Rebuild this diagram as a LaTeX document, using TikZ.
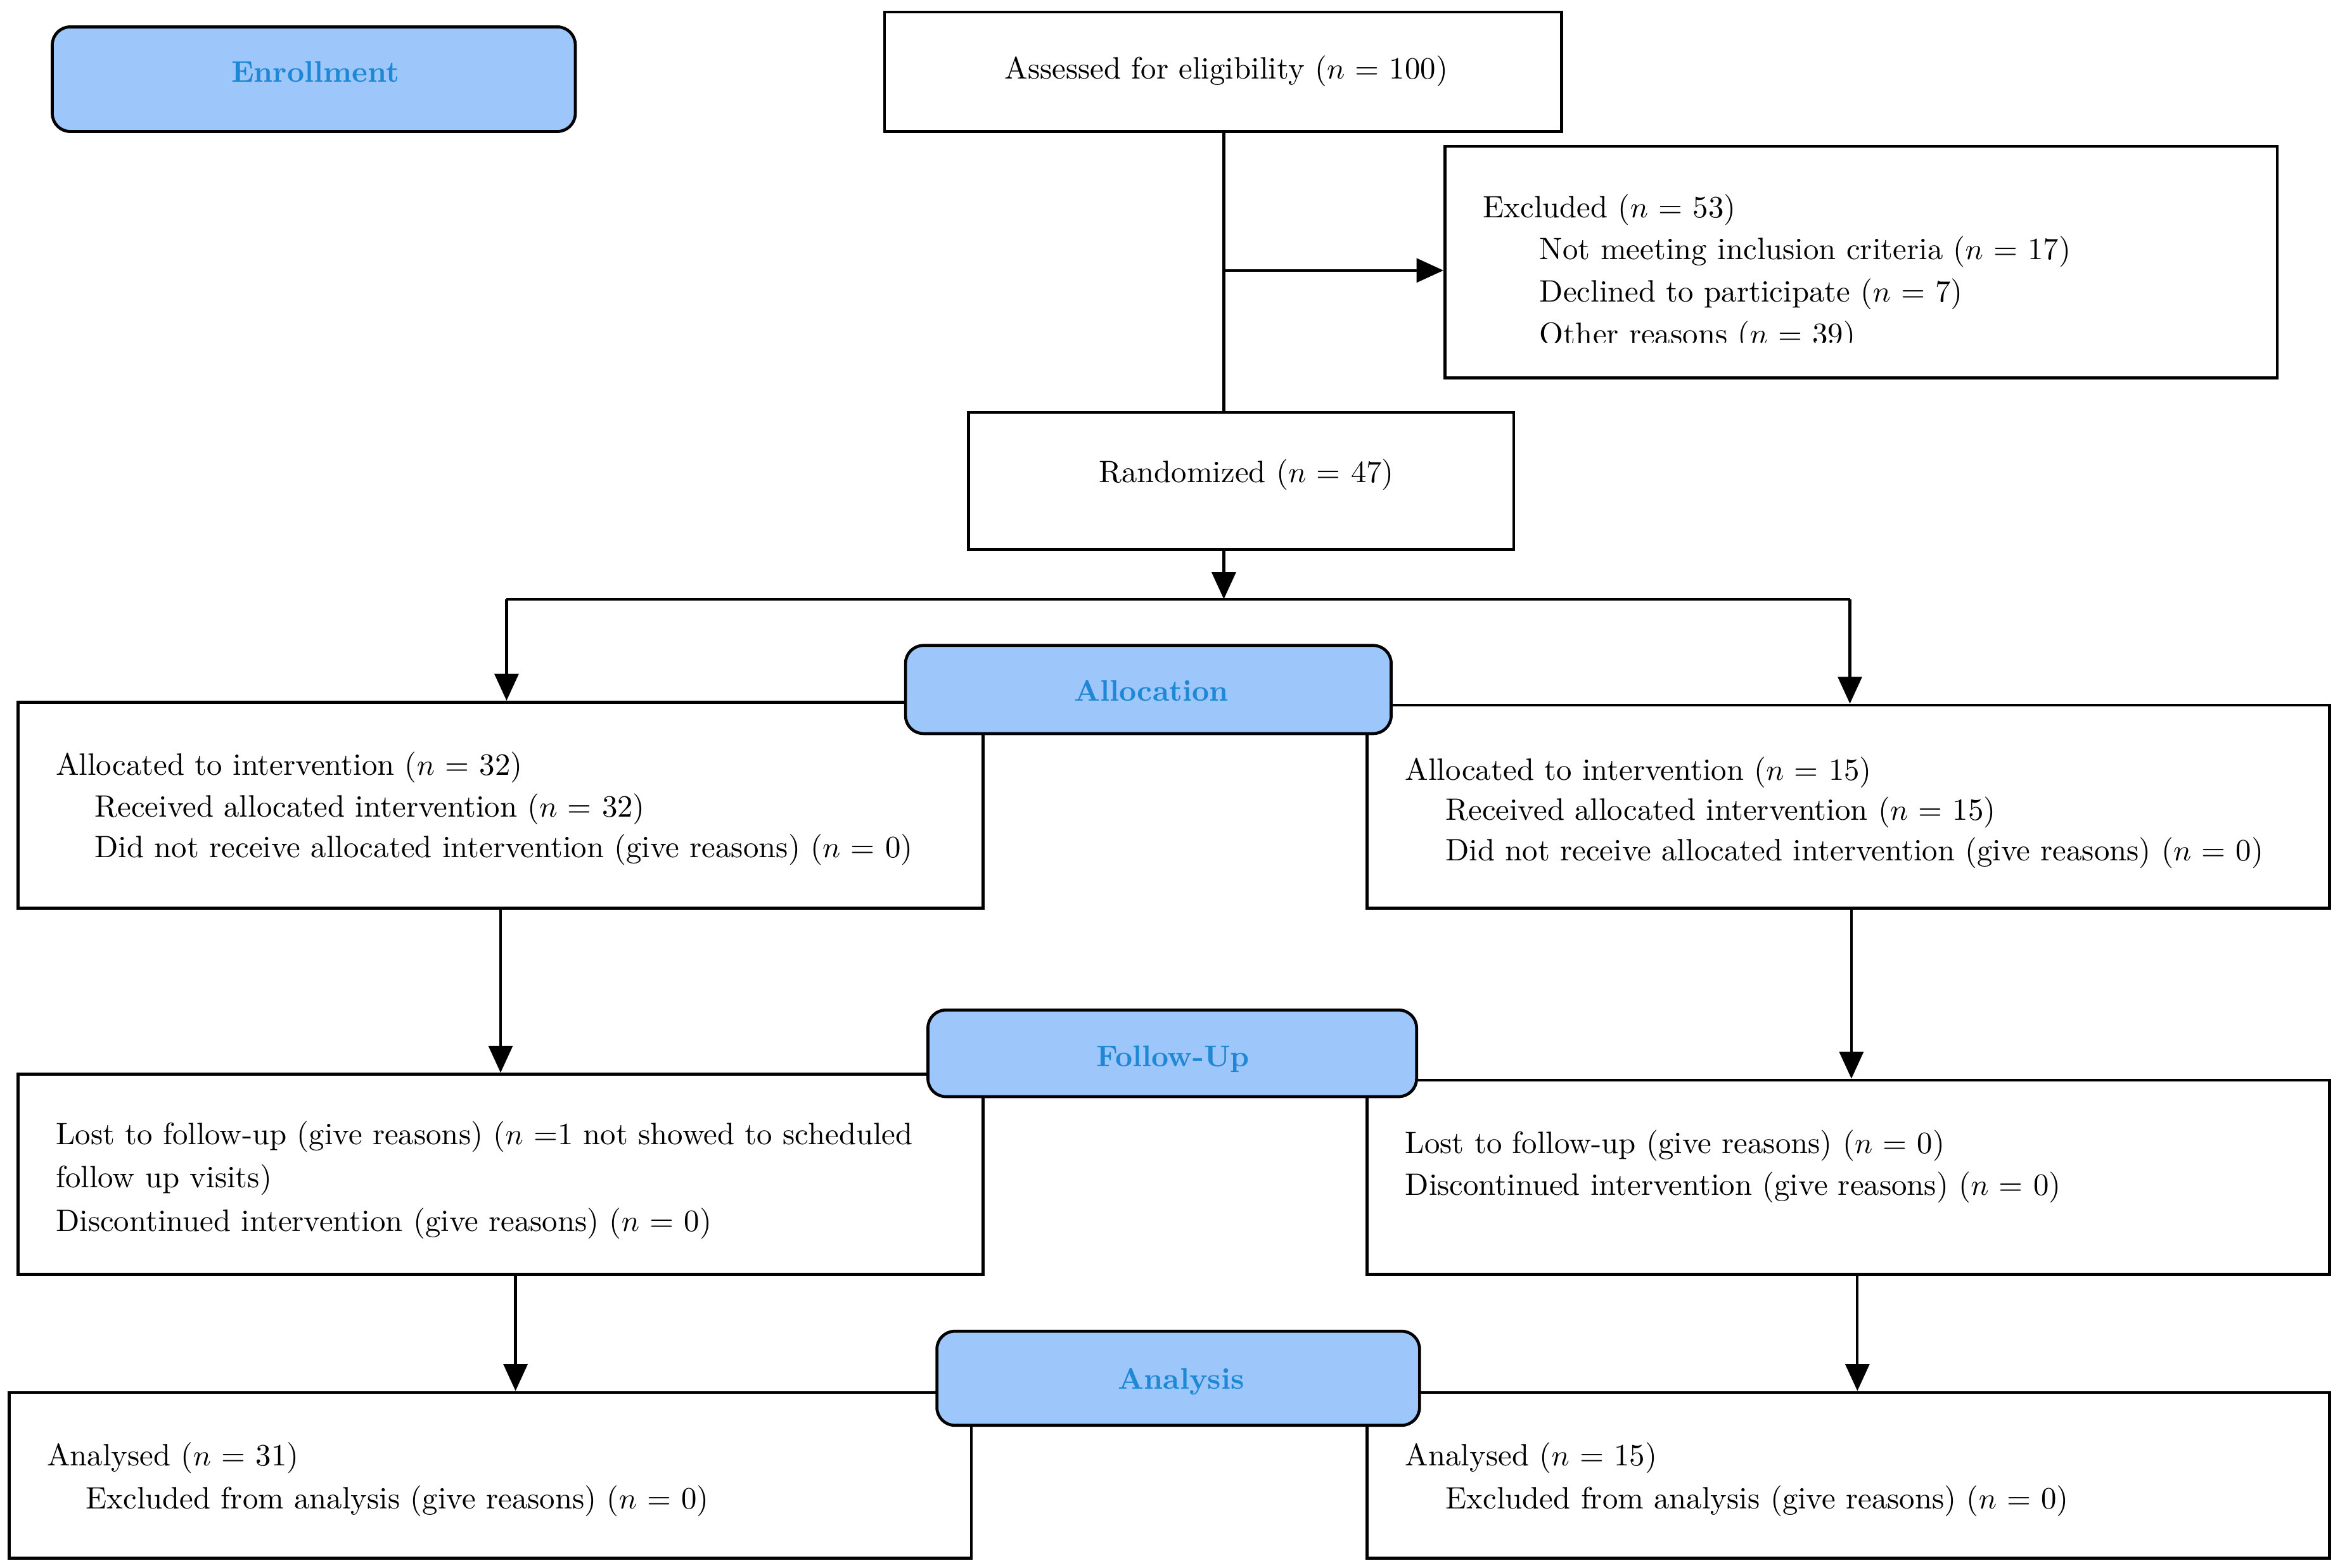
\documentclass[tikz,border=0pt]{standalone}
\usetikzlibrary{arrows.meta,fit}
\definecolor{lblfill}{RGB}{157,198,250}
\definecolor{lbltext}{RGB}{30,136,212}
\begin{document}
\begin{tikzpicture}[x=0.5pt,y=-0.5pt,
  box/.style={draw,line width=1pt,inner sep=0pt,fill=white},
  lbl/.style={draw,line width=1pt,rounded corners=6pt,fill=lblfill,inner sep=0pt},
  lbltxt/.style={text=lbltext,font=\bfseries,anchor=base,inner sep=0pt},
  txt/.style={anchor=base west,inner sep=0pt,font=\fontsize{10.35}{12.4}\selectfont},
  conn/.style={line width=0.9pt},
  arr/.style={conn,-{Triangle[length=9pt,width=8pt]}}]
\useasboundingbox (0,0) rectangle (1566,1049.1);

% boxes
\node[box,fit={(592,8) (1045,88)}] (assess) {};
\node[box,fit={(967,98) (1524,253)}] (excl) {};
\node[box,fit={(648,276) (1013,368)}] (rand) {};
\node[box,fit={(12,470) (658,608)}] (la) {};
\node[box,fit={(915,472) (1559,608)}] (ra) {};
\node[box,fit={(12,719) (658,853)}] (lf) {};
\node[box,fit={(915,723) (1559,853)}] (rf) {};
\node[box,fit={(6,932) (650,1043)}] (lan) {};
\node[box,fit={(915,932) (1559,1043)}] (ran) {};

% texts
\node[txt] (t-assess) at (672,53) {Assessed for eligibility ($n$ = 100)};
\node[txt] (t-ex1) at (992,145.6) {Excluded ($n$ = 53)};
\node[txt] (t-ex2) at (1030,173.5) {Not meeting inclusion criteria ($n$ = 17)};
\node[txt] (t-ex3) at (1030,202) {Declined to participate ($n$ = 7)};
\begin{scope}
\clip (967,98) rectangle (1524,229);
\node[txt] (t-ex4) at (1030,230.5) {Other reasons ($n$ = 39)};
\end{scope}
\node[txt] (t-rand) at (735,323) {Randomized ($n$ = 47)};

\node[txt] (t-la1) at (37,519) {Allocated to intervention ($n$ = 32)};
\node[txt] (t-la2) at (63,547) {Received allocated intervention ($n$ = 32)};
\node[txt] (t-la3) at (63,574) {Did not receive allocated intervention (give reasons) ($n$ = 0)};
\node[txt] (t-ra1) at (940,522) {Allocated to intervention ($n$ = 15)};
\node[txt] (t-ra2) at (967,549) {Received allocated intervention ($n$ = 15)};
\node[txt] (t-ra3) at (967,576) {Did not receive allocated intervention (give reasons) ($n$ = 0)};

\node[txt] (t-lf1) at (37,766) {Lost to follow-up (give reasons) ($n$ =1 not showed to scheduled};
\node[txt] (t-lf2) at (37,795) {follow up visits)};
\node[txt] (t-lf3) at (37,824) {Discontinued intervention (give reasons) ($n$ = 0)};
\node[txt] (t-rf1) at (940,772) {Lost to follow-up (give reasons) ($n$ = 0)};
\node[txt] (t-rf2) at (940,800) {Discontinued intervention (give reasons) ($n$ = 0)};

\node[txt] (t-lan1) at (31,981) {Analysed ($n$ = 31)};
\node[txt] (t-lan2) at (57,1010) {Excluded from analysis (give reasons) ($n$ = 0)};
\node[txt] (t-ran1) at (940,981) {Analysed ($n$ = 15)};
\node[txt] (t-ran2) at (967,1010) {Excluded from analysis (give reasons) ($n$ = 0)};

% connectors
\coordinate (br) at (819,181);
\coordinate (split) at (819,401);
\coordinate (sl) at (339,401);
\coordinate (sr) at (1238,401);
\draw[conn] (assess.south -| br) -- (br |- rand.north);
\draw[arr] (br) -- (br -| excl.west);
\draw[arr] (br |- rand.south) -- (split);
\draw[conn] (sl) -- (sr);
\draw[arr] (sl) -- (sl |- la.north);
\draw[arr] (sr) -- (sr |- ra.north);
\draw[arr] (la.south) -- (lf.north);
\draw[arr] ([xshift=1pt]ra.south) -- ([xshift=1pt]rf.north);
\draw[arr] ([xshift=5pt]lf.south) -- ([xshift=5pt]lf.south |- lan.north);
\draw[arr] ([xshift=3pt]rf.south) -- ([xshift=3pt]rf.south |- ran.north);

% stage labels
\node[lbl,fit={(35,18) (385,88)}] (enr) {};
\node[lbltxt] (t-enr) at (211,55) {Enrollment};
\node[lbl,fit={(606,432) (931,491)}] (alloc) {};
\node[lbltxt] (t-alloc) at (770.5,469.3) {Allocation};
\node[lbl,fit={(621,676) (948,734)}] (fu) {};
\node[lbltxt] (t-fu) at (785,714) {Follow-Up};
\node[lbl,fit={(627,891) (950,954)}] (ana) {};
\node[lbltxt] (t-ana) at (790.5,929.9) {Analysis};
\end{tikzpicture}
\end{document}
